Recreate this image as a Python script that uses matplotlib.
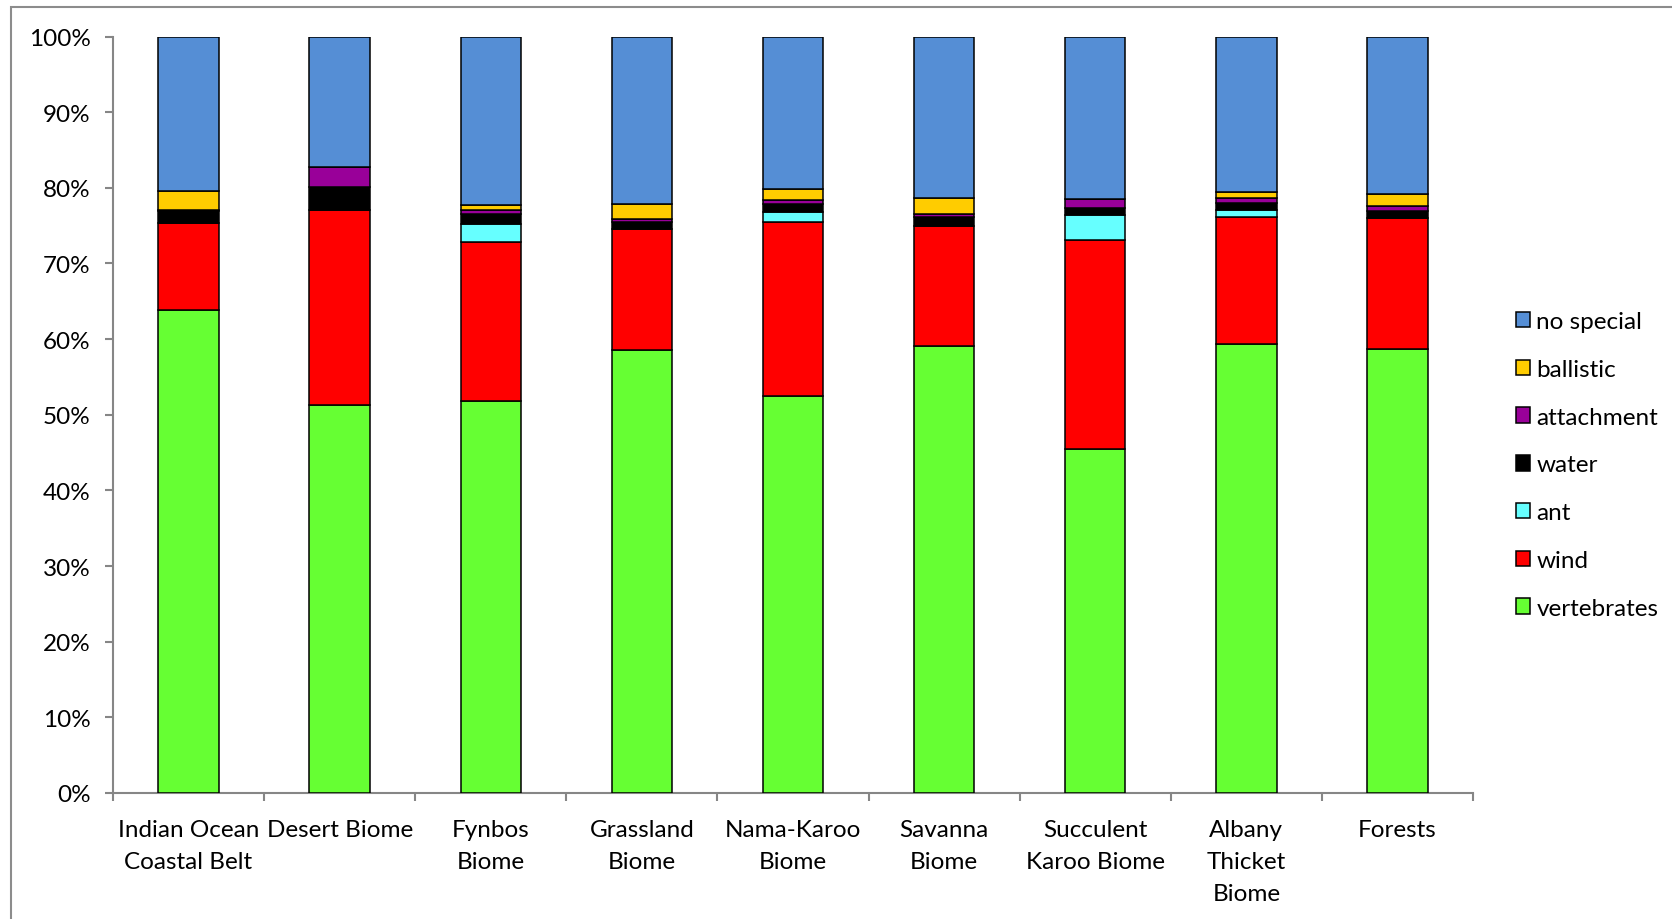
import matplotlib
matplotlib.use("Agg")
import matplotlib.pyplot as plt
from matplotlib.patches import Patch, Rectangle
from matplotlib.ticker import PercentFormatter, FixedLocator, NullFormatter
import numpy as np

plt.rcParams['font.family'] = ['Lato', 'DejaVu Sans']

categories = ["Indian Ocean\nCoastal Belt", "Desert Biome", "Fynbos\nBiome", "Grassland\nBiome",
              "Nama-Karoo\nBiome", "Savanna\nBiome", "Succulent\nKaroo Biome",
              "Albany\nThicket\nBiome", "Forests"]

# percentage of species per dispersal mode (stacked bottom to top)
vertebrates = [63.8, 51.3, 51.8, 58.6, 52.5, 59.1, 45.5, 59.4, 58.7]
wind        = [11.6, 25.7, 21.1, 16.0, 23.0, 15.9, 27.6, 16.8, 17.3]
ant         = [0.0, 0.0, 2.3, 0.0, 1.3, 0.0, 3.3, 0.9, 0.0]
water       = [1.5, 3.1, 1.3, 0.9, 1.0, 1.1, 0.9, 0.9, 0.9]
attachment  = [0.2, 2.6, 0.5, 0.4, 0.6, 0.5, 1.2, 0.6, 0.7]
ballistic   = [2.5, 0.0, 0.7, 2.0, 1.4, 2.1, 0.0, 0.9, 1.6]
no_special  = [20.4, 17.3, 22.3, 22.1, 20.2, 21.3, 21.5, 20.5, 20.8]

series = [
    ("vertebrates", vertebrates, "#66FF33"),
    ("wind", wind, "#FF0000"),
    ("ant", ant, "#66FFFF"),
    ("water", water, "#000000"),
    ("attachment", attachment, "#990099"),
    ("ballistic", ballistic, "#FFCC00"),
    ("no special", no_special, "#558ED5"),
]

FS = 17.5

W, H = 1672, 920
fig = plt.figure(figsize=(W / 100, H / 100), dpi=100)
fig.patch.set_facecolor("white")

# outer chart-area frame
fig.patches.append(Rectangle((11 / W, -0.1), 1.2, 1.1 - 8 / H, transform=fig.transFigure,
                             fill=False, edgecolor="#8C8C8C", linewidth=1.5))

ax = fig.add_axes([113 / W, (H - 794) / H, 1360 / W, 756.5 / H])

x = np.arange(len(categories))
bottom = np.zeros(len(categories))
handles = {}
for name, vals, color in series:
    vals = np.array(vals)
    ax.bar(x, vals, 0.4, bottom=bottom, color=color, edgecolor="black", linewidth=1.1, zorder=3)
    bottom += vals
    handles[name] = Patch(facecolor=color, edgecolor="black", linewidth=1.1)

ax.set_xlim(-0.5, len(categories) - 0.5)
ax.set_ylim(0, 100)
ax.set_yticks(np.arange(0, 101, 10))
ax.yaxis.set_major_formatter(PercentFormatter(decimals=0))

ax.xaxis.set_major_locator(FixedLocator(np.arange(-0.5, len(categories), 1.0)))
ax.xaxis.set_major_formatter(NullFormatter())
ax.xaxis.set_minor_locator(FixedLocator(x))
ax.set_xticklabels(categories, minor=True)

for s in ["top", "right"]:
    ax.spines[s].set_visible(False)
for s in ["left", "bottom"]:
    ax.spines[s].set_color("#868686")
    ax.spines[s].set_linewidth(1.5)

ax.tick_params(axis="y", which="major", direction="out", length=6, width=1.5, color="#868686",
               labelsize=FS, pad=10)
ax.tick_params(axis="x", which="major", direction="out", length=6, width=1.5, color="#868686")
ax.tick_params(axis="x", which="minor", length=0, labelsize=FS, pad=19)
for lbl in ax.get_xticklabels(minor=True):
    lbl.set_linespacing(1.63)

order = ["no special", "ballistic", "attachment", "water", "ant", "wind", "vertebrates"]
fig.legend([handles[n] for n in order], order, loc="center left",
           bbox_to_anchor=(1506 / W, (H - 466) / H), frameon=False, fontsize=FS,
           handlelength=0.6, handleheight=0.6, handletextpad=0.25, labelspacing=1.1,
           borderaxespad=0)

fig.savefig("out.png", dpi=100, facecolor="white")
